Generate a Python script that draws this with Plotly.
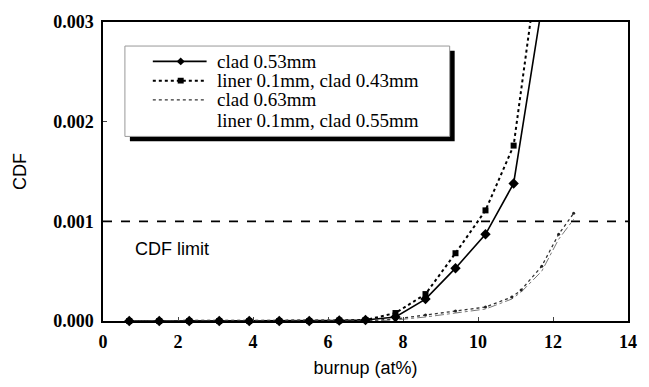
import plotly.graph_objects as go

# ---- data ----
burnup = [0.7, 1.5, 2.3, 3.1, 3.9, 4.7, 5.5, 6.3, 7.0, 7.8, 8.6, 9.4, 10.2, 10.95, 11.72]
clad_053 = [0, 0, 0, 0, 0, 0, 0, 0.000005, 0.00001, 0.00004, 0.00022, 0.00053, 0.00087, 0.00138, 0.00320]
liner_043 = [0, 0, 0, 0, 0, 0, 0, 0.000005, 0.00001, 0.00008, 0.00027, 0.00068, 0.00111, 0.00176, 0.00390]

burnup_b = [0.7, 1.5, 2.3, 3.1, 3.9, 4.7, 5.5, 6.3, 7.0, 7.8, 8.6, 9.4, 10.2, 10.9, 11.15, 11.7, 12.15, 12.55]
clad_063 = [0, 0, 0, 0, 0, 0, 0, 0, 0, 0.00002, 0.00006, 0.00010, 0.00014, 0.00024, 0.00031, 0.00055, 0.00087, 0.00108]
liner_055 = [0, 0, 0, 0, 0, 0, 0, 0, 0, 0.00001, 0.00004, 0.00008, 0.00012, 0.00022, 0.00029, 0.00050, 0.00082, 0.00102]

cdf_limit = 0.001
x_ticks = [0, 2, 4, 6, 8, 10, 12, 14]
y_ticks = [0.0, 0.001, 0.002, 0.003]
XMAX, YMAX = 14, 0.003

names = ["clad 0.53mm", "liner 0.1mm, clad 0.43mm", "clad 0.63mm", "liner 0.1mm, clad 0.55mm"]

SERIF = "Liberation Serif"
SANS = "Liberation Sans"

W, H = 649, 387
ML, MR, MT, MB = 103, 19, 17, 59
PW, PH = W - ML - MR, H - MT - MB


def px(xp):
    return (xp - ML) / PW


def py(yp):
    return (H - MB - yp) / PH


fig = go.Figure()


def in_range(xs, ys):
    pts = [(a, b) for a, b in zip(xs, ys) if b <= YMAX]
    return [p[0] for p in pts], [p[1] for p in pts]


# lines (clipped to plot area)
fig.add_trace(go.Scatter(x=burnup, y=clad_053, mode="lines", name=names[0],
                         line=dict(color="black", width=1.6), showlegend=False))
fig.add_trace(go.Scatter(x=burnup, y=liner_043, mode="lines", name=names[1],
                         line=dict(color="black", width=2, dash="dot"), showlegend=False))
fig.add_trace(go.Scatter(x=burnup_b, y=clad_063, mode="lines", name=names[2],
                         line=dict(color="#333333", width=1.3, dash="dot"), showlegend=False))
fig.add_trace(go.Scatter(x=burnup_b, y=liner_055, mode="lines", name=names[3],
                         line=dict(color="#555555", width=0.8, dash="dashdot"), showlegend=False))

# markers (not clipped, so they sit on the axis)
mx, my = in_range(burnup_b, clad_063)
fig.add_trace(go.Scatter(x=mx, y=my, mode="markers", showlegend=False, cliponaxis=False,
                         marker=dict(symbol="circle", size=3, color="#222222")))
mx, my = in_range(burnup, liner_043)
fig.add_trace(go.Scatter(x=mx, y=my, mode="markers", showlegend=False, cliponaxis=False,
                         marker=dict(symbol="square", size=6, color="black")))
mx, my = in_range(burnup, clad_053)
fig.add_trace(go.Scatter(x=mx, y=my, mode="markers", showlegend=False, cliponaxis=False,
                         marker=dict(symbol="diamond", size=8, color="black")))

# CDF limit line
fig.add_shape(type="line", xref="x", yref="y", x0=0, x1=XMAX, y0=cdf_limit, y1=cdf_limit,
              line=dict(color="black", width=1.6, dash="dash"))
fig.add_annotation(x=0.8, y=0.00072, xref="x", yref="y", text="CDF limit", showarrow=False,
                   xanchor="left", yanchor="middle", font=dict(family=SANS, size=18, color="black"))

# ---- legend box with shadow ----
fig.add_shape(type="rect", xref="paper", yref="paper", x0=px(130), x1=px(456), y0=py(141), y1=py(47),
              fillcolor="black", line=dict(width=0), layer="below")
fig.add_shape(type="rect", xref="paper", yref="paper", x0=px(125), x1=px(451), y0=py(136), y1=py(42),
              fillcolor="white", line=dict(color="#999999", width=1), layer="below")

row_y = [58, 78, 98, 119]
sample_x0, sample_x1, sample_mid, text_x = 153, 207, 181, 215
styles = [dict(color="black", width=1.6), dict(color="black", width=2, dash="dot"),
          dict(color="#333333", width=1.3, dash="dot"), None]
for i, name in enumerate(names):
    yy = row_y[i]
    if styles[i] is not None:
        fig.add_shape(type="line", xref="paper", yref="paper", x0=px(sample_x0), x1=px(sample_x1),
                      y0=py(yy), y1=py(yy), line=styles[i])
    fig.add_annotation(x=px(text_x), y=py(yy), xref="paper", yref="paper", text=name,
                       showarrow=False, xanchor="left", yanchor="middle",
                       font=dict(family=SERIF, size=19, color="black"))
# legend marker samples
d = 4
fig.add_shape(type="path", xref="paper", yref="paper",
              path=f"M {px(sample_mid)},{py(row_y[0]-d)} L {px(sample_mid+d)},{py(row_y[0])} "
                   f"L {px(sample_mid)},{py(row_y[0]+d)} L {px(sample_mid-d)},{py(row_y[0])} Z",
              fillcolor="black", line=dict(width=0))
s = 3
fig.add_shape(type="rect", xref="paper", yref="paper",
              x0=px(sample_mid - s), x1=px(sample_mid + s), y0=py(row_y[1] + s), y1=py(row_y[1] - s),
              fillcolor="black", line=dict(width=0))

fig.update_layout(
    width=W, height=H,
    margin=dict(l=ML, r=MR, t=MT, b=MB),
    paper_bgcolor="white", plot_bgcolor="white",
    font=dict(family=SERIF, size=18, color="black"),
    showlegend=False,
    xaxis=dict(range=[0, XMAX], tickvals=x_ticks, ticks="inside", ticklen=4,
               showline=True, linecolor="black", linewidth=1.5, mirror=True,
               showgrid=False, zeroline=False, ticklabelstandoff=4,
               tickfont=dict(family=SERIF, size=18, color="black", weight="bold"),
               title=dict(text="burnup (at%)", font=dict(family=SANS, size=18, color="black"),
                          standoff=10)),
    yaxis=dict(range=[0, YMAX], tickvals=y_ticks, tickformat=".3f", ticks="inside", ticklen=4,
               showline=True, linecolor="black", linewidth=1.5, mirror=True,
               showgrid=False, zeroline=False, ticklabelstandoff=4,
               tickfont=dict(family=SERIF, size=18, color="black", weight="bold"),
               title=dict(text="CDF", font=dict(family=SANS, size=18, color="black"),
                          standoff=22)),
)

fig.write_html("out.html")
